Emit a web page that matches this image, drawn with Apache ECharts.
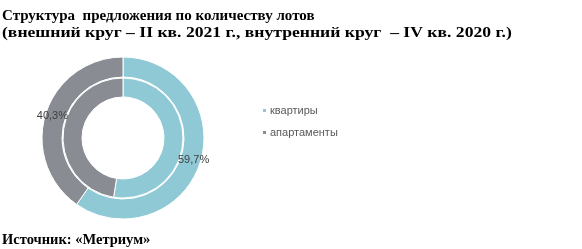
<!DOCTYPE html>
<html><head><meta charset="utf-8">
<script src="https://cdn.jsdelivr.net/npm/echarts@6/dist/echarts.min.js"></script>
<style>html,body{margin:0;padding:0;background:#fff}#c{width:582px;height:249px}</style>
</head><body><div id="c"></div>
<script>
const categories = ['квартиры', 'апартаменты'];
const outerValues = [59.7, 40.3];   // II кв. 2021 г.
const innerValues = [52.5, 47.5];   // IV кв. 2020 г.
const titleLines = ['Структура  предложения по количеству лотов',
                    '(внешний круг – II кв. 2021 г., внутренний круг  – IV кв. 2020 г.)'];
const sourceText = 'Источник: «Метриум»';
const colors = ['#8fc9d5', '#898d93'];

const chart = echarts.init(document.getElementById('c'), null, {renderer: 'canvas'});
const mk = (vals) => categories.map((n, i) => ({name: n, value: vals[i]}));
const serif = {fontFamily: 'Liberation Serif', fontWeight: 'bold', color: '#000'};
chart.setOption({
  animation: false,
  color: colors,
  title: [
    {text: titleLines[0], left: 2, top: 9, padding: 0,
     textStyle: Object.assign({fontSize: 15}, serif)},
    {text: sourceText, left: 2, top: 233, padding: 0,
     textStyle: Object.assign({fontSize: 14.5}, serif)}
  ],
  graphic: [
    {type: 'text', left: 2, top: 25, scaleX: 1.175, scaleY: 1.03, originX: 0, originY: 0,
     style: {text: titleLines[1], font: 'bold 15px "Liberation Serif"', fill: '#000'}}
  ],
  legend: {
    orient: 'vertical', left: 256, top: 100,
    itemWidth: 5, itemHeight: 5, itemGap: 11, icon: 'rect',
    textStyle: {fontFamily: 'Liberation Sans', fontSize: 11, color: '#595959', padding: [0, 0, 0, -2]},
    data: categories
  },
  series: [
    {type: 'pie', radius: [61, 81], center: [123, 138], startAngle: 90, clockwise: true,
     itemStyle: {borderColor: '#fff', borderWidth: 1},
     label: {show: true, position: 'inside', fontFamily: 'Liberation Sans', fontSize: 11, color: '#404040',
             formatter: p => String(p.value).replace('.', ',') + '%'},
     labelLine: {show: false},
     data: mk(outerValues)},
    {type: 'pie', radius: [41, 60], center: [123, 138], startAngle: 90, clockwise: true,
     itemStyle: {borderColor: '#fff', borderWidth: 1},
     label: {show: false}, labelLine: {show: false},
     data: mk(innerValues)}
  ]
});
</script></body></html>
